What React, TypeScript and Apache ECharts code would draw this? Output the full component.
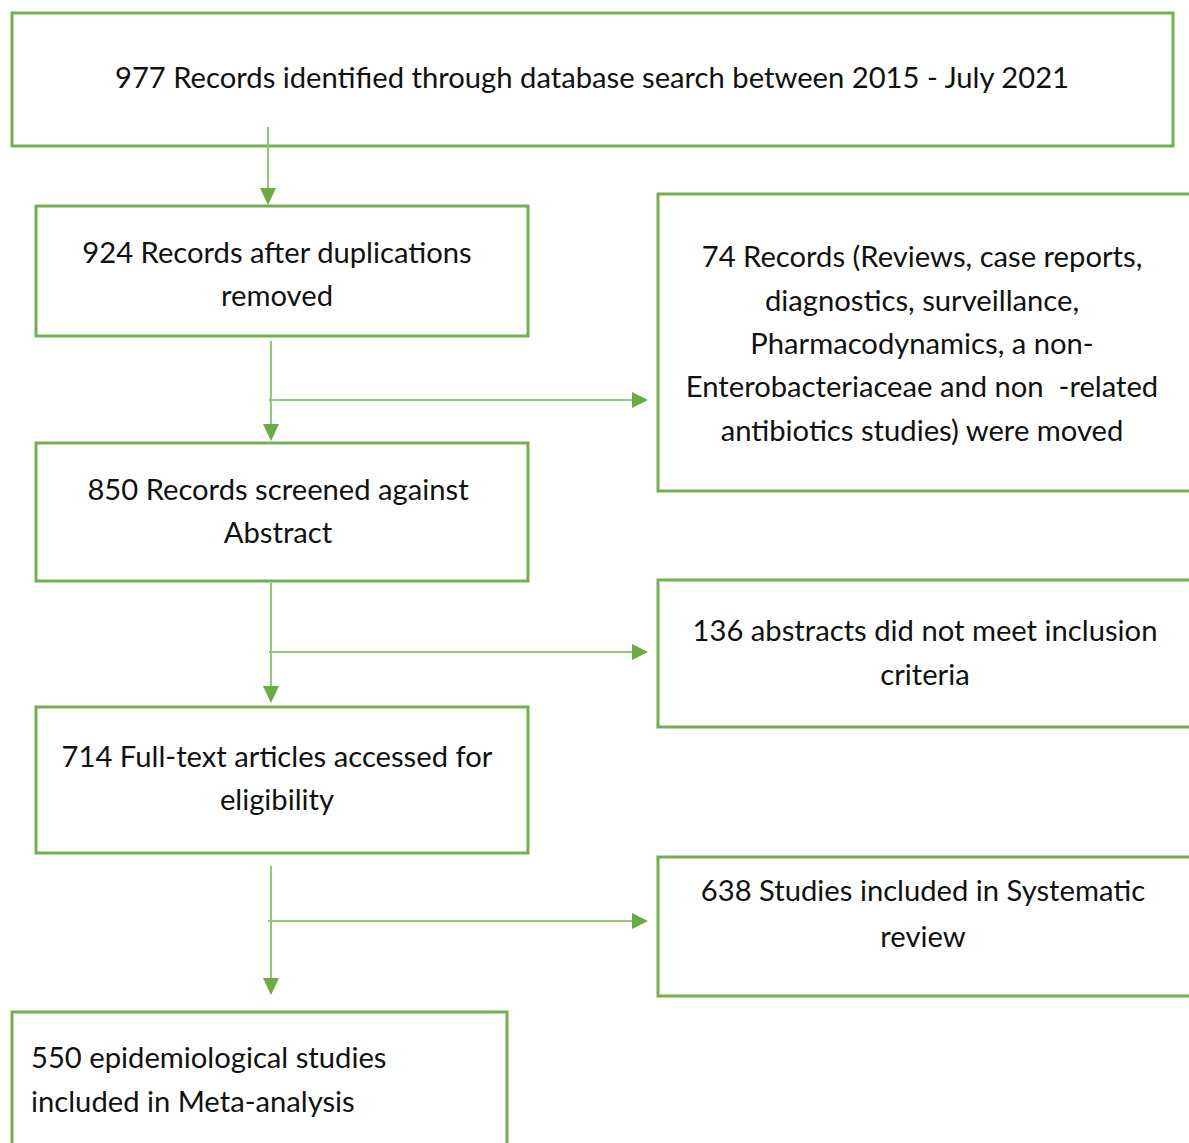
import React, { useEffect, useRef } from "react";
import * as echarts from "echarts";

// Flowchart content (labels of each step)
const identified = ["977 Records identified through database search between 2015 - July 2021"];
const afterDuplicates = ["924 Records after duplications", "removed"];
const excluded = [
  "74 Records (Reviews, case reports,",
  "diagnostics, surveillance,",
  "Pharmacodynamics, a non-",
  "Enterobacteriaceae and non  -related",
  "antibiotics studies) were moved",
];
const screened = ["850 Records screened against", "Abstract"];
const notMeeting = ["136 abstracts did not meet inclusion", "criteria"];
const fullText = ["714 Full-text articles accessed for", "eligibility"];
const systematic = ["638 Studies included in Systematic", "review"];
const meta = ["550 epidemiological studies", "included in Meta-analysis"];

const BOX = "#74b04e";
const LINE = "#93c774";
const HEAD = "#6aab42";
const FONT = "Lato";
const FS = 29.2;
const DY = -1.5;

type Box = { x: number; y: number; w: number; h: number; lines: string[]; tx: number; ty: number; lh: number; align?: string };

const boxes: Box[] = [
  { x: 12, y: 13, w: 1161, h: 133, lines: identified, tx: 592, ty: 78, lh: 43 },
  { x: 36, y: 206, w: 492, h: 130, lines: afterDuplicates, tx: 277, ty: 274.5, lh: 43 },
  { x: 658, y: 194, w: 560, h: 297, lines: excluded, tx: 922, ty: 344, lh: 43.3 },
  { x: 36, y: 443, w: 492, h: 138, lines: screened, tx: 278, ty: 511, lh: 43 },
  { x: 658, y: 580, w: 560, h: 147, lines: notMeeting, tx: 925, ty: 653, lh: 44 },
  { x: 36, y: 707, w: 492, h: 146, lines: fullText, tx: 277, ty: 778.5, lh: 43 },
  { x: 658, y: 857, w: 560, h: 139, lines: systematic, tx: 923, ty: 914, lh: 46 },
  { x: 12, y: 1012, w: 495, h: 160, lines: meta, tx: 31, ty: 1080, lh: 44, align: "left" },
];

// connectors: [x1,y1,x2,y2]
const vLines = [
  [268, 127, 268, 196],
  [271, 341, 271, 432],
  [271, 583, 271, 694],
  [271, 866, 271, 986],
];
const hLines = [
  [269, 400, 640],
  [269, 652, 640],
  [268, 921, 640],
];

export default function App() {
  const ref = useRef<HTMLDivElement>(null);
  useEffect(() => {
    document.body.style.margin = "0";
    document.body.style.overflow = "hidden";
    const chart = echarts.init(ref.current!, undefined, { renderer: "svg" });
    const elements: any[] = [];
    boxes.forEach((b) => {
      elements.push({
        type: "rect",
        shape: { x: b.x, y: b.y, width: b.w, height: b.h },
        style: { fill: "#fff", stroke: BOX, lineWidth: 3 },
      });
      elements.push({
        type: "text",
        x: b.tx,
        y: b.ty + DY,
        style: {
          text: b.lines.join("\n"),
          fontFamily: FONT,
          fontSize: FS,
          lineHeight: b.lh,
          fill: "#111",
          align: b.align || "center",
          verticalAlign: "middle",
        },
      });
    });
    vLines.forEach(([x1, y1, x2, y2]) => {
      elements.push({ type: "line", shape: { x1, y1, x2, y2 }, style: { stroke: LINE, lineWidth: 2 } });
      elements.push({
        type: "polygon",
        shape: { points: [[x2 - 8, y2 - 8], [x2 + 8, y2 - 8], [x2, y2 + 9]] },
        style: { fill: HEAD },
      });
    });
    hLines.forEach(([x1, y, x2]) => {
      elements.push({ type: "line", shape: { x1, y1: y, x2, y2: y }, style: { stroke: LINE, lineWidth: 2 } });
      elements.push({
        type: "polygon",
        shape: { points: [[x2 - 8, y - 8], [x2 - 8, y + 8], [x2 + 8, y]] },
        style: { fill: HEAD },
      });
    });
    chart.setOption({ animation: false, backgroundColor: "#fff", graphic: { elements } });
    return () => chart.dispose();
  }, []);
  return <div ref={ref} style={{ width: 1189, height: 1143 }} />;
}
